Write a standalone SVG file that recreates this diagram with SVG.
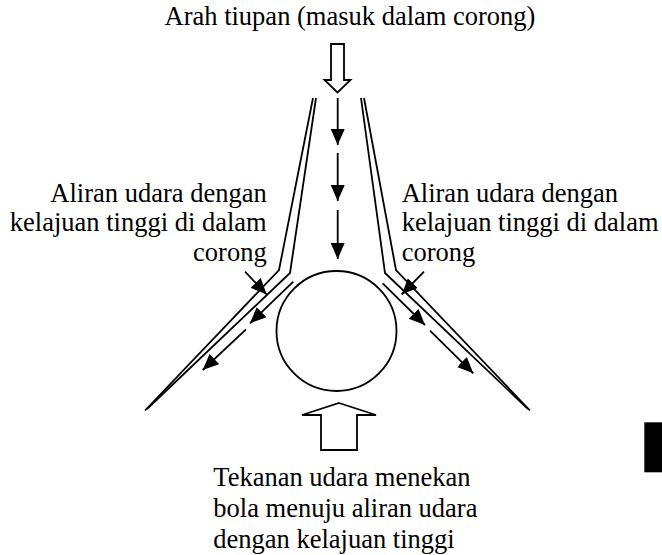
<svg xmlns="http://www.w3.org/2000/svg" width="662" height="555" viewBox="0 0 662 555">
  <style>
    .ln { fill: none; stroke: #000; stroke-width: 1.8; stroke-linejoin: miter; }
    .hollow { fill: #fff; stroke: #000; stroke-width: 1.8; stroke-linejoin: miter; }
    .arr { fill: none; stroke: #000; stroke-width: 1.8; marker-end: url(#head); }
    .lbl { font-family: "Liberation Serif", "Times New Roman", serif; font-size: 26.5px; fill: #000; }
  </style>
  <defs>
    <marker id="head" markerUnits="userSpaceOnUse" markerWidth="17" markerHeight="15" refX="16" refY="7" orient="auto" viewBox="0 0 17 15">
      <path d="M0,0 L16,7 L0,14 z" fill="#000"/>
    </marker>
  </defs>

  <rect width="662" height="555" fill="#fff"/>

  <!-- funnel walls -->
  <g id="funnel">
    <polyline class="ln" points="313,98 279,270 145,410.5"/>
    <polyline class="ln" points="316,98 290,273 147,409"/>
    <polyline class="ln" points="361,98 385,273 528,409"/>
    <polyline class="ln" points="364,98 396,270 530,410.5"/>
  </g>

  <!-- ball -->
  <g id="ball">
    <circle cx="336.5" cy="331" r="60" class="ln"/>
  </g>

  <!-- blowing direction (hollow arrow) -->
  <g id="blow-arrow">
    <polygon class="hollow" points="331,44 344,44 344,80 350.5,80 337.5,92.5 324.5,80 331,80"/>
  </g>

  <!-- pressure arrow below the ball -->
  <g id="pressure-arrow">
    <polygon class="hollow" points="339,403 376,415 357,415 357,450 321,450 321,415 302,415"/>
  </g>

  <!-- air flow arrows -->
  <g id="connectors">
    <line class="arr" x1="337.7" y1="98" x2="337.7" y2="145"/>
    <line class="arr" x1="337.7" y1="153" x2="337.7" y2="201"/>
    <line class="arr" x1="337.7" y1="210" x2="337.7" y2="259"/>

    <line class="arr" x1="245" y1="271.7" x2="266.7" y2="294.5"/>
    <line class="arr" x1="293.3" y1="281.7" x2="250" y2="323.3"/>
    <line class="arr" x1="246" y1="329.3" x2="202.7" y2="370"/>

    <line class="arr" x1="424" y1="271.7" x2="401.7" y2="294.5"/>
    <line class="arr" x1="382.7" y1="283.3" x2="425" y2="325"/>
    <line class="arr" x1="430" y1="330.7" x2="473.3" y2="373.3"/>
  </g>

  <!-- labels -->
  <g id="label-top">
    <text class="lbl" x="350" y="25" text-anchor="middle">Arah tiupan (masuk dalam corong)</text>
  </g>
  <g id="label-left">
    <text class="lbl" x="266.7" y="201.7" text-anchor="end">Aliran udara dengan</text>
    <text class="lbl" x="266.7" y="231.2" text-anchor="end">kelajuan tinggi di dalam</text>
    <text class="lbl" x="266.7" y="260.5" text-anchor="end">corong</text>
  </g>
  <g id="label-right">
    <text class="lbl" x="401.7" y="201.7">Aliran udara dengan</text>
    <text class="lbl" x="401.7" y="231.2">kelajuan tinggi di dalam</text>
    <text class="lbl" x="401.7" y="260.5">corong</text>
  </g>
  <g id="label-bottom">
    <text class="lbl" x="213.3" y="486">Tekanan udara menekan</text>
    <text class="lbl" x="213.3" y="517">bola menuju aliran udara</text>
    <text class="lbl" x="213.3" y="548">dengan kelajuan tinggi</text>
  </g>

  <!-- solid block at right edge -->
  <g id="block">
    <rect x="644.3" y="422.3" width="17.7" height="50" fill="#000"/>
  </g>
</svg>
